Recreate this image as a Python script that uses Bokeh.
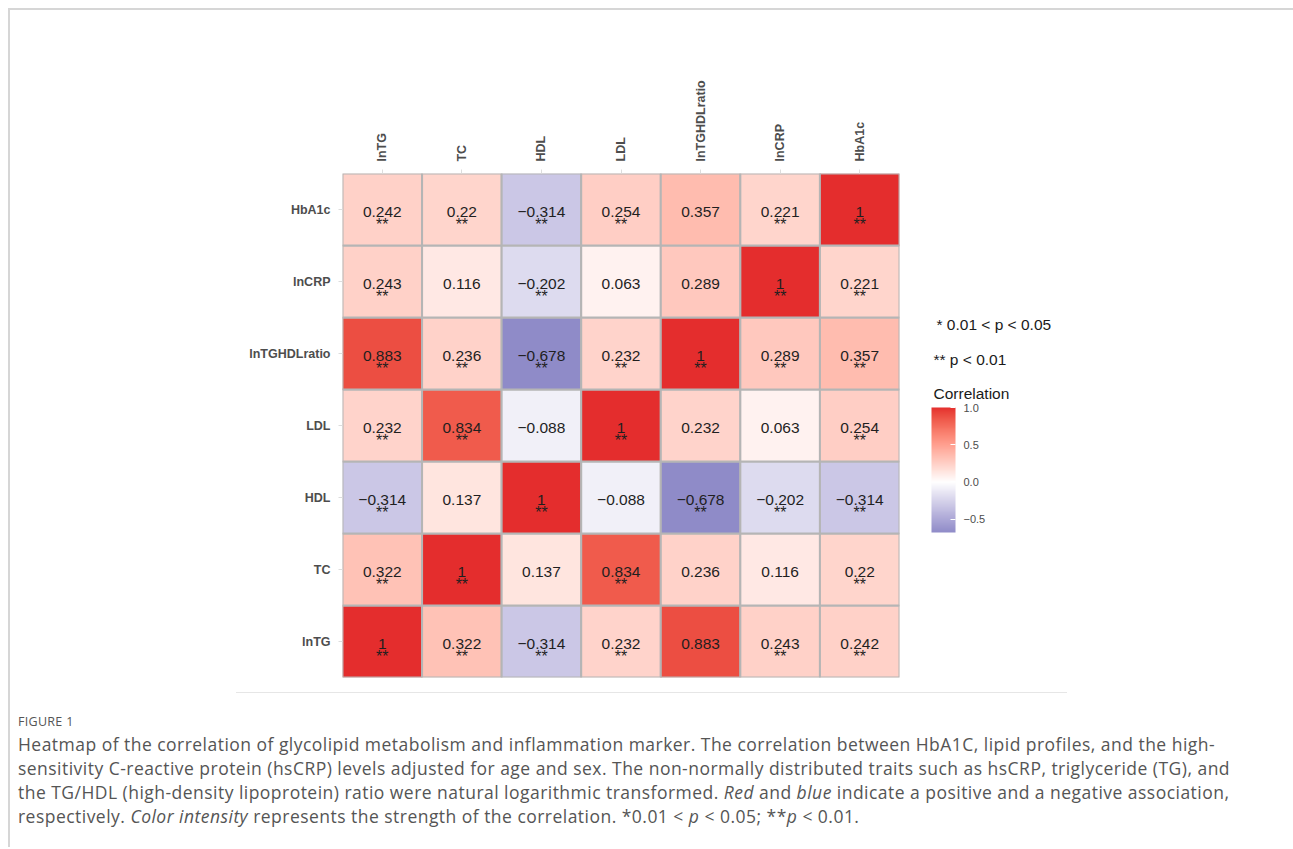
import math
import numpy as np
from bokeh.plotting import figure
from bokeh.models import (ColumnDataSource, LinearColorMapper, ColorBar, FixedTicker,
                          CustomJSTickFormatter, Label, Div, Range1d)
from bokeh.core.properties import value
from bokeh.layouts import column, row
from bokeh.embed import file_html
from bokeh.resources import INLINE

# ---------------- data ----------------
variables = ["lnTG", "TC", "HDL", "LDL", "lnTGHDLratio", "lnCRP", "HbA1c"]

# correlation rows (row variable = variables[i]); columns in the same order
corr_lnTG  = [1, 0.322, -0.314, 0.232, 0.883, 0.243, 0.242]
corr_TC    = [0.322, 1, 0.137, 0.834, 0.236, 0.116, 0.22]
corr_HDL   = [-0.314, 0.137, 1, -0.088, -0.678, -0.202, -0.314]
corr_LDL   = [0.232, 0.834, -0.088, 1, 0.232, 0.063, 0.254]
corr_ratio = [0.883, 0.236, -0.678, 0.232, 1, 0.289, 0.357]
corr_CRP   = [0.243, 0.116, -0.202, 0.063, 0.289, 1, 0.221]
corr_HbA1c = [0.242, 0.22, -0.314, 0.254, 0.357, 0.221, 1]
corr_rows = [corr_lnTG, corr_TC, corr_HDL, corr_LDL, corr_ratio, corr_CRP, corr_HbA1c]

# significance marks, same layout
sig_lnTG  = ["**", "**", "**", "**", "", "**", "**"]
sig_TC    = ["**", "**", "", "**", "", "", "**"]
sig_HDL   = ["**", "", "**", "", "**", "**", "**"]
sig_LDL   = ["**", "**", "", "**", "", "", "**"]
sig_ratio = ["**", "**", "**", "**", "**", "**", "**"]
sig_CRP   = ["**", "", "**", "", "", "**", "**"]
sig_HbA1c = ["**", "**", "**", "**", "", "**", "**"]
sig_rows = [sig_lnTG, sig_TC, sig_HDL, sig_LDL, sig_ratio, sig_CRP, sig_HbA1c]

colorbar_ticks = [-0.5, 0.0, 0.5, 1.0]
legend_sig_1 = "* 0.01 < p < 0.05"
legend_sig_2 = "** p < 0.01"
legend_title = "Correlation"

# ---------------- colour scale (Lab interpolation, ggplot gradient2 style) ----------------
_M = np.array([[0.4124564, 0.3575761, 0.1804375],
               [0.2126729, 0.7151522, 0.0721750],
               [0.0193339, 0.1191920, 0.9503041]])
_WP = np.array([0.95047, 1.0, 1.08883])


def _lin(c):
    c = np.asarray(c, float) / 255.0
    return np.where(c <= 0.04045, c / 12.92, ((c + 0.055) / 1.055) ** 2.4)


def _delin(c):
    c = np.clip(c, 0, None)
    c = np.where(c <= 0.0031308, 12.92 * c, 1.055 * np.power(c, 1 / 2.4) - 0.055)
    return np.clip(np.round(c * 255), 0, 255).astype(int)


def rgb2lab(rgb):
    xyz = _M @ _lin(rgb) / _WP
    d = 6 / 29
    f = np.where(xyz > d ** 3, np.cbrt(xyz), xyz / (3 * d * d) + 4 / 29)
    return np.array([116 * f[1] - 16, 500 * (f[0] - f[1]), 200 * (f[1] - f[2])])


def lab2rgb(lab):
    L, a, b = lab
    fy = (L + 16) / 116
    f = np.array([fy + a / 500, fy, fy - b / 200])
    d = 6 / 29
    xyz = np.where(f > d, f ** 3, 3 * d * d * (f - 4 / 29)) * _WP
    return _delin(np.linalg.inv(_M) @ xyz)


white_lab = rgb2lab([255, 255, 255])
high_lab = rgb2lab([228, 44, 44])
low_at = 0.678
low_lab = white_lab + (rgb2lab([142, 138, 200]) - white_lab) / low_at

all_vals = [v for r_ in corr_rows for v in r_]
lo, hi = min(all_vals), max(all_vals)
N = 256
palette = []
for i in range(N):
    v = lo + (i + 0.5) * (hi - lo) / N
    t = v / max(abs(lo), abs(hi))
    lab = white_lab + (high_lab - white_lab) * t if t >= 0 else white_lab + (low_lab - white_lab) * (-t)
    r, g, b = lab2rgb(lab)
    palette.append("#%02x%02x%02x" % (r, g, b))
mapper = LinearColorMapper(palette=palette, low=lo, high=hi)

# ---------------- source ----------------
xs, ys, rs, labs, sigs = [], [], [], [], []
for i, rv in enumerate(variables):
    for j, cv in enumerate(variables):
        v = corr_rows[i][j]
        xs.append(cv)
        ys.append(rv)
        rs.append(v)
        labs.append(("%g" % v).replace("-", "\u2212"))
        sigs.append(sig_rows[i][j])
src = ColumnDataSource(dict(x=xs, y=ys, r=rs, lab=labs, sig=sigs))

# ---------------- heatmap figure ----------------
FIG_H = 677
p = figure(x_range=variables, y_range=variables, width=917, height=FIG_H,
           min_border_left=332, min_border_right=28, min_border_top=163, min_border_bottom=10,
           x_axis_location="above", tools="", toolbar_location=None, output_backend="svg")
p.outline_line_color = None
p.grid.visible = False
p.background_fill_color = "white"
p.border_fill_color = "white"

p.rect(x="x", y="y", width=1, height=1, source=src,
       fill_color={"field": "r", "transform": mapper},
       line_color="#b5b5b5", line_width=2)

p.text(x="x", y="y", text="lab", source=src, text_align="center", text_baseline="middle",
       y_offset=2, text_font=value("Liberation Sans"), text_font_size="15.5px", text_color="#1f1f1f")
p.text(x="x", y="y", text="sig", source=src, text_align="center", text_baseline="middle",
       y_offset=15, text_font=value("Liberation Sans"), text_font_size="16px", text_color="#1f1f1f")

for ax in (p.xaxis, p.yaxis):
    ax.axis_line_color = None
    ax.major_tick_line_color = "#dddddd"
    ax.major_tick_out = 4
    ax.major_tick_in = 0
    ax.minor_tick_line_color = None
    ax.major_label_text_font = "Liberation Sans"
    ax.major_label_text_font_style = "bold"
    ax.major_label_text_font_size = "12.5px"
    ax.major_label_text_color = "#4d4d4d"
    ax.major_label_standoff = 8
p.xaxis.major_label_orientation = math.pi / 2

# ---------------- legend figure ----------------
q = figure(width=358, height=FIG_H, x_range=Range1d(0, 1), y_range=Range1d(0, 1),
           min_border=0, tools="", toolbar_location=None, output_backend="svg")
q.axis.visible = False
q.grid.visible = False
q.outline_line_color = None
q.background_fill_color = "white"
q.border_fill_color = "white"

for txt, sx, sy in [(legend_sig_1, 9, 353), (legend_sig_2, 6, 318), (legend_title, 6, 284)]:
    q.add_layout(Label(x=sx, y=sy, x_units="screen", y_units="screen", text=txt,
                       text_font="Liberation Sans", text_font_size="15.5px",
                       text_color="#1a1a1a", text_baseline="middle"))

cb = ColorBar(color_mapper=mapper, ticker=FixedTicker(ticks=colorbar_ticks),
              formatter=CustomJSTickFormatter(code="return tick.toFixed(1).replace('-', '\\u2212')"),
              width=24, height=125, location=(4, 145), padding=0,
              background_fill_alpha=0, border_line_color=None, bar_line_color=None,
              major_label_text_font="Liberation Sans", major_label_text_font_size="11px",
              major_label_text_color="#4d4d4d", major_tick_line_color="white",
              major_tick_in=5, major_tick_out=0, label_standoff=8, minor_tick_line_color=None)
q.add_layout(cb, "center")

caption = (
    '<div style="width:831px;margin-left:221px;border-top:1px solid #e6e6e6;height:0"></div>'
    '<div style="margin-left:3px;margin-top:21px;font-family:\'Open Sans\';font-size:12.5px;'
    'line-height:15px;color:#555555;letter-spacing:0.3px">FIGURE 1</div>'
    '<div style="margin-left:3px;margin-top:3px;font-family:\'Open Sans\';font-size:17.5px;'
    'letter-spacing:0.47px;line-height:24px;color:#555555;white-space:nowrap">'
    'Heatmap of the correlation of glycolipid metabolism and inflammation marker. The correlation between HbA1C, lipid profiles, and the high-<br>'
    'sensitivity C-reactive protein (hsCRP) levels adjusted for age and sex. The non-normally distributed traits such as hsCRP, triglyceride (TG), and<br>'
    'the TG/HDL (high-density lipoprotein) ratio were natural logarithmic transformed. <i>Red</i> and <i>blue</i> indicate a positive and a negative association,<br>'
    'respectively. <i>Color intensity</i> represents the strength of the correlation. *0.01 &lt; <i>p</i> &lt; 0.05; **<i>p</i> &lt; 0.01.'
    '</div>'
)
div = Div(text=caption, width=1275, height=150)

layout = column(row(p, q), div,
                styles={"border-top": "2px solid #d6d6d6", "border-left": "2px solid #d6d6d6",
                        "margin-top": "8px", "margin-left": "8px"})

open("out.html", "w").write(file_html(layout, INLINE))
